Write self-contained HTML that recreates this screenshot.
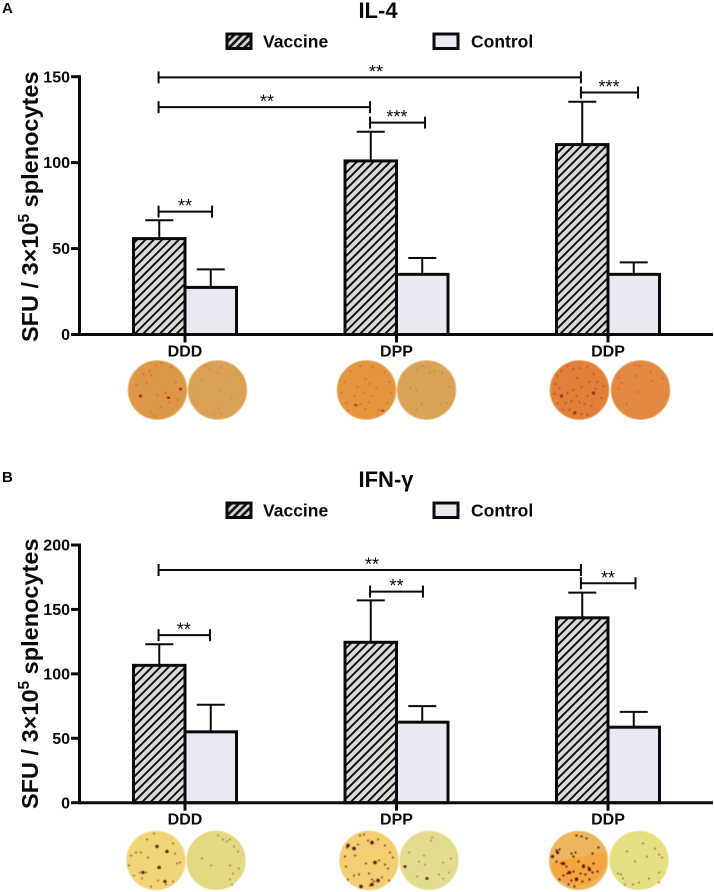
<!DOCTYPE html>
<html>
<head>
<meta charset="utf-8">
<style>
html,body{margin:0;padding:0;background:#fff}
svg{display:block}
text{font-family:"Liberation Sans",sans-serif;fill:#0a0a0a}
.b{font-weight:bold}
</style>
</head>
<body>
<svg id="fig" xmlns="http://www.w3.org/2000/svg" width="714" height="892" viewBox="0 0 714 892">
<defs>
<pattern id="hatch" patternUnits="userSpaceOnUse" width="5.9" height="5.9" patternTransform="rotate(45)">
<rect width="5.9" height="5.9" fill="#dadada"/><rect width="1.9" height="5.9" fill="#0c0c0c"/>
</pattern>
<pattern id="hatchL" patternUnits="userSpaceOnUse" width="5.4" height="5.4" patternTransform="rotate(45)">
<rect width="5.4" height="5.4" fill="#d6d6d6"/><rect width="2.6" height="5.4" fill="#111"/>
</pattern>
<filter id="soft" x="-10%" y="-10%" width="120%" height="120%"><feGaussianBlur stdDeviation="0.45"/></filter>
</defs>

<text class="b" x="2" y="13" font-size="15">A</text>
<text class="b" x="2" y="482" font-size="15">B</text>

<g>
<g transform="translate(157.5,390)">
<circle r="29.5" fill="#dd9847" stroke="#f0c48e" stroke-width="1"/>
<path filter="url(#soft)" fill="none" stroke="#b5501c" stroke-linecap="round" stroke-width="1.5" d="M23-2h0M-17 7h0M-6-15h0M-2-25h0M4-27h0M0 5h0M8 3h0M-21-5h0M-7 22h0M3 17h0M18-8h0M-11-7h0M14-23h0M-8-19h0M12 12h0M-14-16h0M20 10h0M-3 26h0"/>
<path filter="url(#soft)" fill="none" stroke="#8f2a10" stroke-linecap="round" stroke-width="3" d="M11 8h0M23-1h0M-17 6h0"/>
</g>
<g transform="translate(217.5,390)">
<circle r="29.5" fill="#d9a056" stroke="#f0cc9c" stroke-width="1"/>
<path filter="url(#soft)" fill="none" stroke="#b56a30" stroke-linecap="round" stroke-width="1.3" d="M-8-21h0M0-17h0M-15-10h0M4-23h0M12-14h0M-12-24h0M3 0h0M1 19h0M3 23h0M-4 24h0M-19 2h0M14 8h0"/>
</g>
<g transform="translate(366.5,390)">
<circle r="29.5" fill="#e4963f" stroke="#f4c28a" stroke-width="1"/>
<path filter="url(#soft)" fill="none" stroke="#b04a18" stroke-linecap="round" stroke-width="1.5" d="M-1-11h0M3-6h0M-9-3h0M-2 3h0M5 6h0M-16-19h0M-22-8h0M-25 3h0M-20 13h0M-10 15h0M-6 14h0M-1 19h0M12 20h0M17 20h0M21 13h0M24 3h0M23-8h0M18-18h0M6-23h0M-6-24h0M10-2h0M-12 6h0M-18 20h0M2 12h0"/>
<path filter="url(#soft)" fill="none" stroke="#a83a12" stroke-linecap="round" stroke-width="2.6" d="M-11 15h0M16 21h0"/>
</g>
<g transform="translate(426.5,390)">
<circle r="29.5" fill="#d9a259" stroke="#f0cc9c" stroke-width="1"/>
<path filter="url(#soft)" fill="none" stroke="#b5642c" stroke-linecap="round" stroke-width="1.4" d="M-10-20h0M-8-22h0M3-17h0M8-19h0M16-17h0M-4-24h0M-16-2h0M-10 0h0M-5 14h0M-10 20h0M15 14h0M20 13h0M23-3h0"/>
</g>
<g transform="translate(579.5,390)">
<circle r="29.5" fill="#e2803a" stroke="#f2ac7c" stroke-width="1"/>
<path filter="url(#soft)" fill="none" stroke="#b2300f" stroke-linecap="round" stroke-width="1.7" d="M-22-14h0M-18-19h0M-12-24h0M-6-21h0M-24-6h0M-20-2h0M-25 4h0M-18 6h0M-12 3h0M-6 0h0M2-3h0M10-8h0M-2-12h0M16-1h0M14 4h0M18-8h0M-22 13h0M-14 13h0M-8 11h0M0 12h0M5 14h0M12 16h0M22 8h0M-10 20h0M-4 22h0M2 24h0M8 25h0M-16 20h0M14-16h0M0-22h0M8-23h0M24-4h0M-3 6h0M8 6h0"/>
<path filter="url(#soft)" fill="none" stroke="#95230c" stroke-linecap="round" stroke-width="3" d="M-5 23h0M14 3h0M-18 6h0"/>
</g>
<g transform="translate(640.5,390)">
<circle r="29.5" fill="#e18843" stroke="#f4b98c" stroke-width="1"/>
<path filter="url(#soft)" fill="none" stroke="#b5461a" stroke-linecap="round" stroke-width="1.4" d="M-5-25h0M-1-24h0M-4-14h0M10-18h0M-22-1h0M-19-7h0M-3 2h0M11-9h0M-14 14h0M22-12h0M-22-12h0"/>
<path filter="url(#soft)" fill="none" stroke="#9a2d10" stroke-linecap="round" stroke-width="3.4" d="M-23-7h0"/>
</g>
</g>

<g>
<g transform="translate(156,860.5)">
<circle r="29.5" fill="#f1d478" stroke="#f8e4ae" stroke-width="1"/>
<path filter="url(#soft)" fill="none" stroke="#7a3414" stroke-linecap="round" stroke-width="1.7" d="M-2-27h0M-20-8h0M-25-5h0M-15-8h0M1-14h0M11-9h0M19-7h0M21 3h0M24 2h0M17-17h0M-8-3h0M-10 12h0M-16 12h0M-22 15h0M-14 18h0M2 20h0M10 24h0M17 21h0M-5 26h0M-27 5h0M-9-21h0M4 7h0"/>
<path filter="url(#soft)" fill="none" stroke="#5a1e0c" stroke-linecap="round" stroke-width="3.2" d="M-13 12h0M3 7h0M11-9h0M1-14h0M9 21h0"/>
</g>
<g transform="translate(216,860.5)">
<circle r="29.5" fill="#e3d883" stroke="#f2e8b6" stroke-width="1"/>
<path filter="url(#soft)" fill="none" stroke="#8a4a1c" stroke-linecap="round" stroke-width="1.6" d="M2-25h0M7-21h0M11-19h0M14-21h0M18-14h0M22-9h0M14 5h0M17 13h0M14 19h0M-14-2h0M-5 5h0M23 8h0M16 24h0"/>
</g>
<g transform="translate(369,860.5)">
<circle r="29.5" fill="#f3cf73" stroke="#f8e0a8" stroke-width="1"/>
<path filter="url(#soft)" fill="none" stroke="#7a2e10" stroke-linecap="round" stroke-width="1.9" d="M-9-25h0M-5-26h0M-11-16h0M3-17h0M9-21h0M-1-20h0M-22-13h0M-15-12h0M-24-4h0M-14-5h0M16-15h0M21-8h0M24-3h0M-23 6h0M-3 3h0M6 2h0M10 0h0M16 4h0M19 8h0M0 13h0M-15 15h0M-10 14h0M3 19h0M13 17h0M-21 19h0M-8 26h0M1 25h0M5 21h0M20 20h0"/>
<path filter="url(#soft)" fill="none" stroke="#5a1a0a" stroke-linecap="round" stroke-width="3.6" d="M-15-12h0M-21-15h0M6 2h0M3 24h0M9 20h0M-8 26h0M3-18h0"/>
</g>
<g transform="translate(429,860.5)">
<circle r="29.5" fill="#e2dc8e" stroke="#f2ecc0" stroke-width="1"/>
<path filter="url(#soft)" fill="none" stroke="#8a4a1c" stroke-linecap="round" stroke-width="1.5" d="M3-23h0M2-20h0M-5-5h0M-10 1h0M-4 4h0M14 2h0M-24 6h0M-12 16h0M-2 18h0M10 14h0M14 18h0M20 12h0M-20-8h0M22-2h0"/>
<path filter="url(#soft)" fill="none" stroke="#6a2610" stroke-linecap="round" stroke-width="3" d="M-24 6h0M-2 18h0"/>
</g>
<g transform="translate(578.5,860.5)">
<circle r="29.5" fill="#ecb65c" stroke="#f6d6a6" stroke-width="1"/>
<path d="M-27 2L28-9A29.5 29.5 0 0 1-27 10Z" fill="#f4a642"/>
<path filter="url(#soft)" fill="none" stroke="#6a1e0c" stroke-linecap="round" stroke-width="2.2" d="M-2-25h0M3-24h0M8-22h0M-22-10h0M-19-11h0M-7-7h0M-3-8h0M-5-4h0M-22 1h0M-17 3h0M-12 6h0M0 1h0M5 5h0M10 7h0M14 12h0M19 11h0M-11 13h0M-5 11h0M2 13h0M7 14h0M-15 15h0M-19 19h0M-2 18h0M4 21h0M11 19h0M-10 24h0M-4 26h0M-7 20h0M15 3h0M14-7h0M20-13h0"/>
<path filter="url(#soft)" fill="none" stroke="#521408" stroke-linecap="round" stroke-width="3.2" d="M-26-4h0M-21-8h0M-15 3h0M-9 12h0M5 6h0M11 9h0M-2 19h0"/>
</g>
<g transform="translate(639,860.5)">
<circle r="29.5" fill="#e2e083" stroke="#f2f0bc" stroke-width="1"/>
<path filter="url(#soft)" fill="none" stroke="#6e3414" stroke-linecap="round" stroke-width="1.6" d="M4-17h0M8-4h0M16-12h0M20-6h0M-12-9h0M-4 1h0M-21 13h0M-18 14h0M-16 18h0M0 22h0M10 18h0M20 12h0M20 22h0M-6 24h0M-14 24h0M23-3h0"/>
</g>
</g>

<g id="panelA"></g>
<g id="panelB"></g>
</svg>

<script>
var categories = ['DDD', 'DPP', 'DDP'];
var seriesNames = ['Vaccine', 'Control'];

var il4Ticks = [0, 50, 100, 150];
var il4Vaccine = [55.8, 101, 110.5];
var il4VaccineErr = [10.7, 17, 24.9];
var il4Control = [27.4, 35, 35];
var il4ControlErr = [10.5, 9.5, 7];
var il4BracketFrom = [-0.125, -0.125, -0.125, 0.875, 1.872];
var il4BracketTo = [1.872, 0.875, 0.128, 1.135, 2.142];
var il4BracketLevel = [149.6, 132.3, 71.5, 123.3, 140.8];
var il4BracketStars = ['**', '**', '**', '***', '***'];
var il4StarPos = [0.903, 0.388, 0, 1.002, 2.005];

var ifnTicks = [0, 50, 100, 150, 200];
var ifnVaccine = [106.6, 124.5, 143.5];
var ifnVaccineErr = [16.4, 32.5, 19.5];
var ifnControl = [55, 62.5, 58.6];
var ifnControlErr = [21, 12.5, 11.9];
var ifnBracketFrom = [-0.125, 0.875, 1.872, -0.125];
var ifnBracketTo = [1.872, 1.125, 2.13, 0.118];
var ifnBracketLevel = [180.6, 163.8, 170.3, 130.1];
var ifnBracketStars = ['**', '**', '**', '**'];
var ifnStarPos = [0.884, 1, 2, -0.005];

var NS = 'http://www.w3.org/2000/svg';
function mk(parent, tag, attrs, txt) {
  var el = document.createElementNS(NS, tag);
  for (var k in attrs) el.setAttribute(k, attrs[k]);
  if (txt !== undefined) el.textContent = txt;
  parent.appendChild(el);
  return el;
}

function drawPanel(root, cfg) {
  var xOf = function (g) { return 185 + g * 211.5; };
  var yOf = function (v) { return cfg.y0 - v * cfg.pxPerUnit; };
  var barW = 51.5;
  var el;

  el = mk(root, 'text', {'class': 'b', x: cfg.titleX, y: cfg.titleY, 'font-size': 22, 'text-anchor': 'middle'}, cfg.title);
  
  

  // legend
  el = mk(root, 'rect', {x: 227, y: cfg.legendY, width: 24, height: 14.5, fill: 'url(#hatchL)', stroke: '#0a0a0a', 'stroke-width': 3});
  
  
  el = mk(root, 'text', {'class': 'b', x: 263, y: cfg.legendY + 13.5, 'font-size': 17.5}, seriesNames[0]);
  
  
  el = mk(root, 'rect', {x: 434, y: cfg.legendY, width: 24, height: 14.5, fill: '#e8e9f3', stroke: '#0a0a0a', 'stroke-width': 3});
  
  
  el = mk(root, 'text', {'class': 'b', x: 471, y: cfg.legendY + 13.5, 'font-size': 17.5}, seriesNames[1]);
  
  

  // y axis title
  el = mk(root, 'text', {'class': 'b', 'font-size': 23.5, transform: 'translate(38,' + cfg.labelStart + ') rotate(-90)'});
  
  
  mk(el, 'tspan', {}, 'SFU / 3×10');
  mk(el, 'tspan', {dy: -9, 'font-size': 15.5}, '5');
  mk(el, 'tspan', {dy: 9}, ' splenocytes');

  // bars
  categories.forEach(function (c, i) {
    var cx = xOf(i);
    var vx = cx - barW, cxx = cx;
    var bar, err, cap;

    err = mk(root, 'line', {x1: vx + barW / 2 , x2: vx + barW / 2, y1: yOf(cfg.vac[i]), y2: yOf(cfg.vac[i] + cfg.vacErr[i]), stroke: '#0a0a0a', 'stroke-width': 2});
    
    
    cap = mk(root, 'line', {x1: vx + barW / 2 - 14, x2: vx + barW / 2 + 14, y1: yOf(cfg.vac[i] + cfg.vacErr[i]), y2: yOf(cfg.vac[i] + cfg.vacErr[i]), stroke: '#0a0a0a', 'stroke-width': 2});
    
    

    err = mk(root, 'line', {x1: cxx + barW / 2, x2: cxx + barW / 2, y1: yOf(cfg.ctl[i]), y2: yOf(cfg.ctl[i] + cfg.ctlErr[i]), stroke: '#0a0a0a', 'stroke-width': 2});
    
    
    cap = mk(root, 'line', {x1: cxx + barW / 2 - 14, x2: cxx + barW / 2 + 14, y1: yOf(cfg.ctl[i] + cfg.ctlErr[i]), y2: yOf(cfg.ctl[i] + cfg.ctlErr[i]), stroke: '#0a0a0a', 'stroke-width': 2});
    
    

    bar = mk(root, 'rect', {x: cxx, y: yOf(cfg.ctl[i]), width: barW, height: yOf(0) - yOf(cfg.ctl[i]), fill: '#e8e9f3', stroke: '#0a0a0a', 'stroke-width': 3});
    
    
    bar = mk(root, 'rect', {x: vx, y: yOf(cfg.vac[i]), width: barW, height: yOf(0) - yOf(cfg.vac[i]), fill: 'url(#hatch)', stroke: '#0a0a0a', 'stroke-width': 3});
    
    
  });

  // axes
  el = mk(root, 'line', {x1: 79.5, x2: 79.5, y1: yOf(cfg.ticks[cfg.ticks.length - 1]) - 1.5, y2: yOf(0) + 1.5, stroke: '#0a0a0a', 'stroke-width': 3});
  
  
  el = mk(root, 'line', {x1: 78, x2: 713, y1: yOf(0), y2: yOf(0), stroke: '#0a0a0a', 'stroke-width': 3});
  
  

  cfg.ticks.forEach(function (t) {
    var tick = mk(root, 'line', {x1: 71, x2: 79.5, y1: yOf(t), y2: yOf(t), stroke: '#0a0a0a', 'stroke-width': 3});
    
    
    var lab = mk(root, 'text', {'class': 'b', x: 70, y: yOf(t) + 5.6, 'font-size': 16, 'text-anchor': 'end'}, String(t));
    
    
  });

  categories.forEach(function (c, i) {
    var tick = mk(root, 'line', {x1: xOf(i), x2: xOf(i), y1: yOf(0), y2: yOf(0) + 8, stroke: '#0a0a0a', 'stroke-width': 3});
    
    
    var lab = mk(root, 'text', {'class': 'b', x: xOf(i), y: yOf(0) + 22, 'font-size': 16, 'text-anchor': 'middle'}, c);
    
    
  });

  // significance brackets
  cfg.brFrom.forEach(function (f, i) {
    var x1 = xOf(f), x2 = xOf(cfg.brTo[i]), y = yOf(cfg.brLevel[i]);
    var d = 'M' + x1 + ' ' + (y - 6) + 'V' + (y + 6) + 'M' + x1 + ' ' + y + 'H' + x2 + 'M' + x2 + ' ' + (y - 6) + 'V' + (y + 6);
    var br = mk(root, 'path', {d: d, fill: 'none', stroke: '#0a0a0a', 'stroke-width': 2});
    
    
    var st = mk(root, 'text', {x: xOf(cfg.brStarPos[i]), y: y + 0.5, 'font-size': 18, 'text-anchor': 'middle'}, cfg.brStars[i]);
    
    
  });
}

drawPanel(document.getElementById('panelA'), {
  title: 'IL-4', titleX: 378, titleY: 18, legendY: 34, labelStart: 342,
  y0: 334.5, pxPerUnit: 257.8 / 150, ticks: il4Ticks,
  vac: il4Vaccine, vacErr: il4VaccineErr, ctl: il4Control, ctlErr: il4ControlErr,
  brFrom: il4BracketFrom, brTo: il4BracketTo, brLevel: il4BracketLevel, brStars: il4BracketStars, brStarPos: il4StarPos
});
drawPanel(document.getElementById('panelB'), {
  title: 'IFN-γ', titleX: 386, titleY: 487, legendY: 503, labelStart: 809,
  y0: 802.7, pxPerUnit: 257.7 / 200, ticks: ifnTicks,
  vac: ifnVaccine, vacErr: ifnVaccineErr, ctl: ifnControl, ctlErr: ifnControlErr,
  brFrom: ifnBracketFrom, brTo: ifnBracketTo, brLevel: ifnBracketLevel, brStars: ifnBracketStars, brStarPos: ifnStarPos
});
</script>
</body>
</html>
